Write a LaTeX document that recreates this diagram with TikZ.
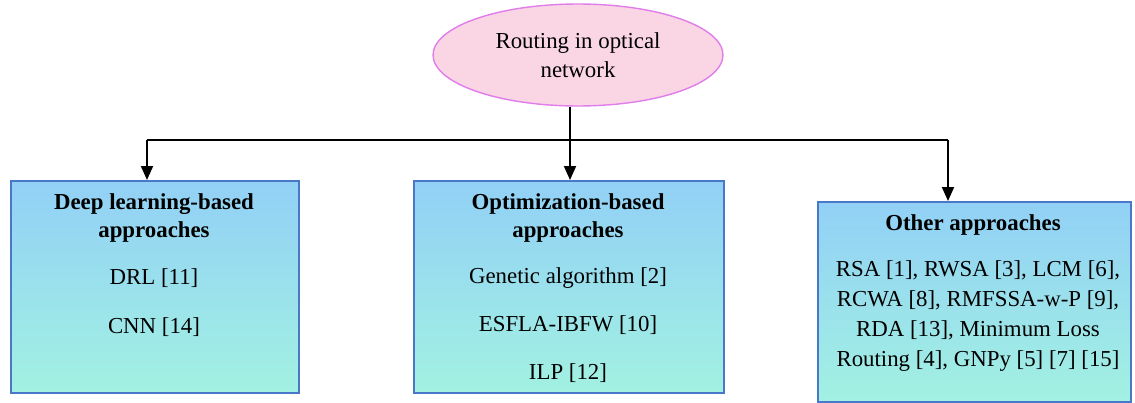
\documentclass[tikz,border=0pt]{standalone}
\usepackage{fontspec}
\setmainfont{Liberation Serif}
\usetikzlibrary{arrows.meta, shapes.geometric, positioning}
\definecolor{mBoxBorder}{HTML}{4A78C8}
\definecolor{mBoxTop}{HTML}{92D0F6}
\definecolor{mBoxMid}{HTML}{B0ECF8}
\definecolor{mBoxBottom}{HTML}{A2F1E2}
\definecolor{mRootFill}{HTML}{FAD6E4}
\definecolor{mRootBorder}{HTML}{E07DEB}

\tikzset{
  catbox/.style={draw=mBoxBorder, line width=0.9pt, top color=mBoxTop, middle color=mBoxMid, bottom color=mBoxBottom, anchor=north west, inner sep=0pt},
  head/.style={font=\fontsize{13}{16}\selectfont\bfseries, align=center},
  item/.style={font=\fontsize{13}{16}\selectfont, align=center},
  link/.style={line width=1.1pt},
  linkarr/.style={link, -{Triangle[length=2.8mm, width=2.4mm]}}
}

\begin{document}
\begin{tikzpicture}[x=0.02cm, y=-0.02cm]
  \useasboundingbox (0,0) rectangle (1135,402);

  % root
  \node[ellipse, draw=mRootBorder, fill=mRootFill, line width=0.8pt, minimum width=5.8cm, minimum height=2.04cm, inner sep=0pt,
        font=\fontsize{13}{16.5}\selectfont, align=center] (root) at (578,55) {Routing in optical\\network};

  % category boxes
  \node[catbox, minimum width=5.76cm, minimum height=4.24cm] (deep) at (10,180) {};
  \node[catbox, minimum width=6.2cm, minimum height=4.24cm] (optim) at (413,180) {};
  \node[catbox, minimum width=6.26cm, minimum height=4.0cm] (other) at (817,201) {};

  % texts
  \node[head] (deepHead) at (154,218) {Deep learning-based\\approaches};
  \node[item] (drl) at (154,278) {DRL [11]};
  \node[item] (cnn) at (154,327) {CNN [14]};

  \node[head] (optimHead) at (568,218) {Optimization-based\\approaches};
  \node[item] (ga) at (568,278) {Genetic algorithm [2]};
  \node[item] (esfla) at (568,325) {ESFLA-IBFW [10]};
  \node[item] (ilp) at (568,373) {ILP [12]};

  \node[head] (otherHead) at (973,225) {Other approaches};
  \node[item, font=\fontsize{13}{17}\selectfont] (otherList) at (978,316)
    {RSA [1], RWSA [3], LCM [6],\\RCWA [8], RMFSSA-w-P [9],\\RDA [13], Minimum Loss\\Routing [4], GNPy [5] [7] [15]};

  % connectors
  \coordinate (split) at (570,140);
  \coordinate (jDeep) at (147,140);
  \coordinate (jOther) at (948,140);
  \draw[link] (root.south -| split) -- (split);
  \draw[link] (jDeep) -- (jOther);
  \draw[linkarr] (jDeep) -- (jDeep |- deep.north);
  \draw[linkarr] (split) -- (split |- optim.north);
  \draw[linkarr] (jOther) -- (jOther |- other.north);
\end{tikzpicture}
\end{document}
